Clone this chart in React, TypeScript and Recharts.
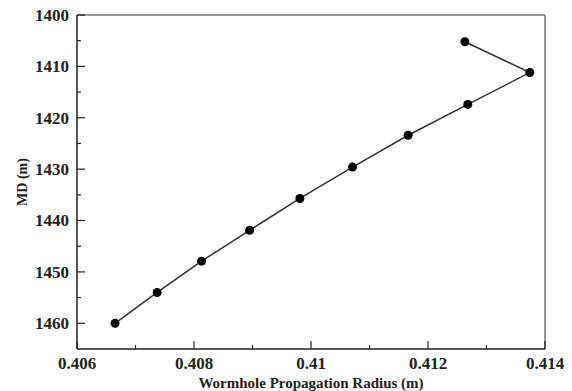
import { Line, LineChart, ReferenceLine, XAxis, YAxis } from "recharts";

const radius = [0.40665, 0.40737, 0.40813, 0.40895, 0.40981, 0.41071, 0.41166, 0.41268, 0.41374, 0.41263];
const md = [1460, 1454, 1447.9, 1441.9, 1435.7, 1429.6, 1423.4, 1417.4, 1411.2, 1405.2];

const xTicks = [0.406, 0.407, 0.408, 0.409, 0.41, 0.411, 0.412, 0.413, 0.414];
const yTicks = [1400, 1405, 1410, 1415, 1420, 1425, 1430, 1435, 1440, 1445, 1450, 1455, 1460];

const data = radius.map((r, i) => ({ radius: r, md: md[i] }));

const FONT = "'Liberation Serif', 'Times New Roman', serif";
const AXIS = "#222";

const YTick = (props: any) => {
  const { x, y, payload } = props;
  const axisX = x + 8;
  const major = payload.value % 10 === 0;
  return (
    <g>
      <line x1={axisX} x2={axisX + (major ? 8 : 4)} y1={y} y2={y} stroke={AXIS} strokeWidth={1.2} />
      {major && (
        <text x={x} y={y} dy="0.35em" textAnchor="end" fontFamily={FONT} fontWeight="bold" fontSize={17} fill="#222">
          {payload.value}
        </text>
      )}
    </g>
  );
};

const XTick = (props: any) => {
  const { x, y, payload } = props;
  const axisY = y - 8;
  const major = Math.round(payload.value * 1000) % 2 === 0;
  return (
    <g>
      <line x1={x} x2={x} y1={axisY} y2={axisY - (major ? 8 : 4)} stroke={AXIS} strokeWidth={1.2} />
      {major && (
        <text x={x} y={y} dy="0.71em" textAnchor="middle" fontFamily={FONT} fontWeight="bold" fontSize={17} fill="#222">
          {String(Number(payload.value.toFixed(3)))}
        </text>
      )}
    </g>
  );
};

export default function App() {
  return (
    <div style={{ position: "absolute", left: 0, top: 0, background: "#fff" }}>
      <LineChart width={572} height={391} data={data} margin={{ top: 15, right: 27, left: 0, bottom: 0 }}>
        <XAxis
          type="number"
          dataKey="radius"
          domain={[0.406, 0.414]}
          ticks={xTicks}
          interval={0}
          allowDataOverflow
          height={42}
          tickSize={0}
          tickMargin={8}
          tickLine={false}
          tick={<XTick />}
          axisLine={{ stroke: AXIS, strokeWidth: 1.5 }}
          label={{
            value: "Wormhole Propagation Radius (m)",
            position: "insideBottom",
            offset: 3,
            style: { fontFamily: FONT, fontWeight: "bold", fontSize: 15, fill: "#222" },
          }}
        />
        <YAxis
          type="number"
          domain={[1400, 1465]}
          reversed
          ticks={yTicks}
          interval={0}
          allowDataOverflow
          width={77}
          tickSize={0}
          tickMargin={8}
          tickLine={false}
          tick={<YTick />}
          axisLine={{ stroke: AXIS, strokeWidth: 1.5 }}
          label={{
            value: "MD (m)",
            angle: -90,
            position: "insideLeft",
            offset: 22,
            style: { fontFamily: FONT, fontWeight: "bold", fontSize: 14, fill: "#222", textAnchor: "middle" },
          }}
        />
        <ReferenceLine y={1400} stroke="#777" strokeWidth={1.5} />
        <ReferenceLine x={0.414} stroke="#777" strokeWidth={1.5} />
        <Line
          type="linear"
          dataKey="md"
          stroke="#333"
          strokeWidth={1.5}
          dot={{ r: 4.5, fill: "#000", stroke: "#000", strokeWidth: 0 }}
          isAnimationActive={false}
        />
      </LineChart>
    </div>
  );
}
